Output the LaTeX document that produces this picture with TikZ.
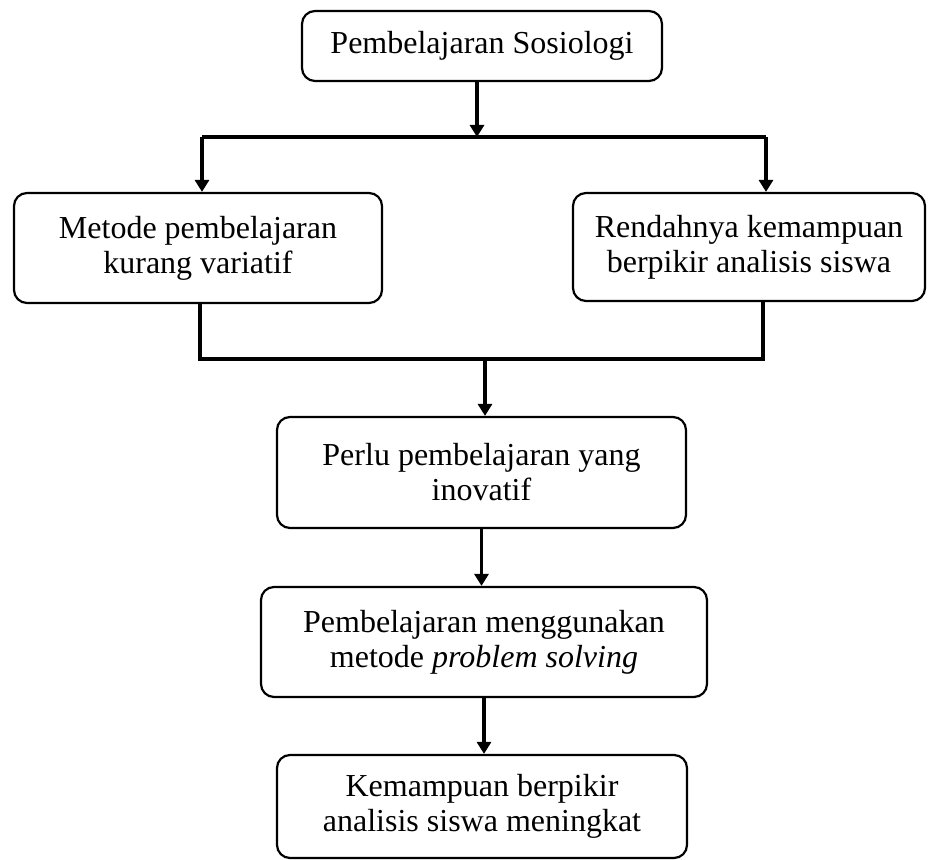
\documentclass[tikz,border=0pt]{standalone}
\usepackage{fontspec}
\setmainfont{Liberation Serif}
\usetikzlibrary{arrows.meta}

\begin{document}
\begin{tikzpicture}[x=0.5pt, y=-0.5pt,
    box/.style={draw, line width=1.1pt, rounded corners=6.5pt, align=center, inner sep=0pt},
    arr/.style={line width=1.6pt, -{Triangle[length=6pt,width=7pt]}},
    link/.style={line width=1.6pt},
    font={\fontsize{16}{17.5}\selectfont}]
    \useasboundingbox (0,0) rectangle (928,860);

    \node[box, minimum width=180pt, minimum height=35pt] (sosio) at (482,46) {Pembelajaran Sosiologi};
    \node[box, minimum width=184pt, minimum height=55pt] (metode) at (198,248) {Metode pembelajaran\\kurang variatif};
    \node[box, minimum width=176pt, minimum height=54pt] (rendah) at (749,247) {Rendahnya kemampuan\\berpikir analisis siswa};
    \node[box, minimum width=204.5pt, minimum height=55.5pt] (perlu) at (481.5,472.5) {Perlu pembelajaran yang\\inovatif};
    \node[box, minimum width=223pt, minimum height=55pt] (ps) at (484,642) {Pembelajaran menggunakan\\metode \textit{problem solving}};
    \node[box, minimum width=205pt, minimum height=51.5pt] (naik) at (482,806.5) {Kemampuan berpikir\\analisis siswa meningkat};

    \coordinate (split) at (477,137);
    \coordinate (lsplit) at (202,137);
    \coordinate (rsplit) at (766,137);
    \draw[arr] (sosio.south -| split) -- (split);
    \draw[link] (lsplit) -- (rsplit);
    \draw[arr] (lsplit) -- (lsplit |- metode.north);
    \draw[arr] (rsplit) -- (rsplit |- rendah.north);

    \coordinate (lmerge) at (200,359);
    \coordinate (rmerge) at (763,359);
    \coordinate (merge) at (485,359);
    \draw[link] (lmerge |- metode.south) -- (lmerge) -- (rmerge) -- (rmerge |- rendah.south);
    \draw[arr] (merge) -- (merge |- perlu.north);

    \draw[arr] (perlu.south) -- (perlu.south |- ps.north);
    \draw[arr] (ps.south) -- (ps.south |- naik.north);
\end{tikzpicture}
\end{document}
